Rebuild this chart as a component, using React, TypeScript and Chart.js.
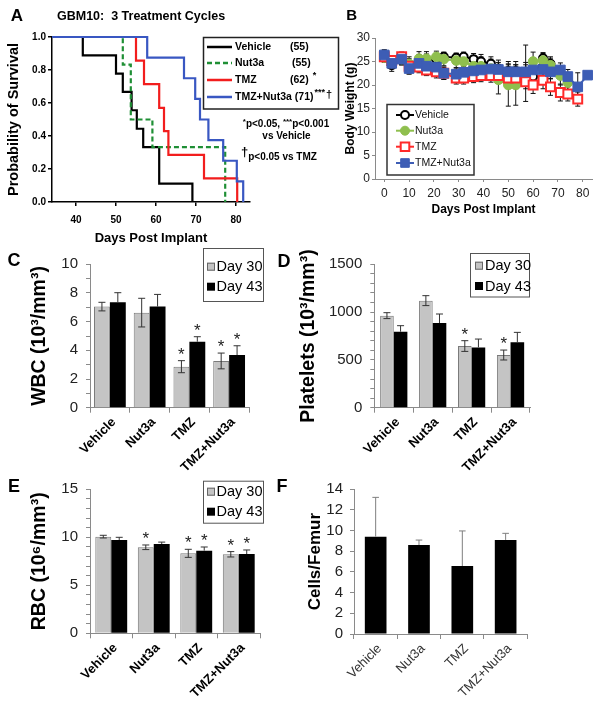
import React, { useEffect, useRef } from 'react';
import { Chart, registerables } from 'chart.js';

Chart.register(...registerables);

const SANS = "'Liberation Sans', Arial, Helvetica, sans-serif";
const NARROW = "'Liberation Sans Narrow', 'Arial Narrow', 'Liberation Sans', Arial, sans-serif";
Chart.defaults.font.family = SANS;

// ================= Panel A : survival =================
const survTicks = [40, 50, 60, 70, 80];
const vehicleDays = [34, 41.7, 50, 51.7, 53.9, 55.2, 56.8, 60.8, 69.1];
const vehicleSurv = [1, 0.889, 0.778, 0.667, 0.556, 0.444, 0.333, 0.111, 0];
const nut3aDays = [34, 51.7, 53.7, 59.1, 77.3];
const nut3aSurv = [1, 0.833, 0.5, 0.333, 0];
const tmzDays = [34, 55, 57, 60.8, 62, 63.1, 72, 80.3];
const tmzSurv = [1, 0.857, 0.714, 0.571, 0.429, 0.286, 0.143, 0];
const comboDays = [34, 57.8, 67, 69.8, 71, 73.1, 76.8, 80.2, 81.8];
const comboSurv = [1, 0.875, 0.75, 0.625, 0.5, 0.375, 0.25, 0.125, 0];
const survNames = ['Vehicle', 'Nut3a', 'TMZ', 'TMZ+Nut3a'];
const survMedians = ['(55)', '(55)', '(62)', '(71)'];
const survMarks = ['', '', '*', '***'];

// ================= Panel B : body weight =================
const bwTicks = [0, 10, 20, 30, 40, 50, 60, 70, 80];
const bwDays = [0, 3, 7, 10, 14, 17, 21, 24, 29, 32, 36, 39, 43, 46, 50, 53, 57, 60, 64, 67, 71, 74, 78, 82];
const bwVehicle = [26.3, 24.2, 25.5, 24, 25, 25.3, 25.5, 26, 25.8, 26, 25.5, 25, 24.5, 23.5, 23, 23, 22.8, 21.8, 25.7, 24.5, null, null, null, null];
const bwVehicleErr = [1.2, 1.3, 1.2, 1.6, 1.5, 1.3, 1.2, 1.0, 1.0, 1.0, 1.2, 1.5, 1.5, 1.8, 2, 2, 2, 2.5, 1.2, 1.5, null, null, null, null];
const bwNut3a = [25.8, 25, 25.5, 24.5, 25.6, 25.6, 26, 25.5, 25.2, 25, 24, 24, 23.5, 21.1, 20, 20, 22.5, 25, 25.2, 24.2, 22, 20.5, null, null];
const bwNut3aErr = [1, 1.2, 1.2, 1.5, 1.5, 1.5, 1.2, 1.4, 1.5, 1.5, 2, 2, 2, 3, 4.5, 4.3, 6, 2, 1.5, 1.5, 2, 2, null, null];
const bwTmz = [26, 25.2, 26, 24, 23.8, 23.2, 22.8, 22.5, 21.5, 21.5, 21.8, 22, 22, 22, 21.5, 21.5, 20.7, 20, 21, 19.6, 18.4, 18.1, 17, null];
const bwTmzErr = [1, 1, 1, 1.2, 1.2, 1.2, 1.3, 1.3, 1.3, 1.3, 1.3, 1.3, 1.4, 1.4, 1.5, 1.5, 1.5, 1.8, 1.8, 1.8, 1.8, 1.5, 1.5, null];
const bwCombo = [26.4, 24.6, 25.5, 23.5, 24.6, 24, 23.8, 22.5, 22.3, 22.7, 23, 23.2, 23.4, 23.3, 22.8, 22.8, 22.8, 23.2, 23.3, 22.8, 23.2, 21.8, 19.6, 22.1];
const bwComboErr = [1, 1, 1.2, 1.2, 1.3, 1.2, 1.2, 1.3, 1.3, 1.3, 1.3, 1.3, 1.5, 1.5, 1.5, 1.5, 1.5, 1.5, 1.5, 1.5, 1.5, 1.5, 3, 0.5];

// ================= Panels C-F : bar charts =================
const groups = ['Vehicle', 'Nut3a', 'TMZ', 'TMZ+Nut3a'];
const dayLabels = ['Day 30', 'Day 43'];
const wbcDay30 = [7.05, 6.63, 2.86, 3.26];
const wbcDay30Err = [0.3, 1.0, 0.42, 0.55];
const wbcDay30Sig = [false, false, true, true];
const wbcDay43 = [7.35, 7.05, 4.6, 3.67];
const wbcDay43Err = [0.67, 0.85, 0.35, 0.65];
const wbcDay43Sig = [false, false, true, true];
const pltDay30 = [963, 1120, 645, 551];
const pltDay30Err = [31, 52, 56, 52];
const pltDay30Sig = [false, false, true, true];
const pltDay43 = [795, 886, 631, 684];
const pltDay43Err = [63, 94, 87, 104];
const pltDay43Sig = [false, false, false, false];
const rbcDay30 = [10.07, 8.96, 8.33, 8.23];
const rbcDay30Err = [0.14, 0.24, 0.42, 0.28];
const rbcDay30Sig = [false, true, true, true];
const rbcDay43 = [9.72, 9.3, 8.61, 8.26];
const rbcDay43Err = [0.28, 0.2, 0.38, 0.42];
const rbcDay43Sig = [false, false, true, true];
const femurCells = [9.42, 8.61, 6.58, 9.1];
const femurErr = [3.8, 0.48, 3.39, 0.64];

const AX = '#8a8a8a';
const GRAY_BAR = '#c4c4c4';

// ================= helpers =================
function text(c: any, s: string, x: number, y: number, font: string, color = '#000', align = 'left', base = 'middle') {
  c.save();
  c.font = font;
  c.fillStyle = color;
  c.textAlign = align;
  c.textBaseline = base;
  c.fillText(s, x, y);
  c.restore();
}

function runs(c: any, x: number, y: number, segs: any[], align = 'left') {
  c.save();
  let total = 0;
  segs.forEach((s) => { c.font = s[1]; total += c.measureText(s[0]).width; });
  let cx = align === 'center' ? x - total / 2 : x;
  c.textBaseline = 'middle';
  c.textAlign = 'left';
  c.fillStyle = '#000';
  segs.forEach((s) => {
    c.font = s[1];
    c.fillText(s[0], cx, y + (s[2] || 0));
    cx += c.measureText(s[0]).width;
  });
  c.restore();
  return cx;
}

function errorBarPlugin(o: any) {
  const draw = (chart: any) => {
    const c = chart.ctx;
    chart.data.datasets.forEach((ds: any, di: number) => {
      if (!ds.errors) return;
      const meta = chart.getDatasetMeta(di);
      const ys = chart.scales[meta.yAxisID];
      meta.data.forEach((el: any, i: number) => {
        const raw = ds.data[i];
        const v = raw !== null && typeof raw === 'object' ? raw.y : raw;
        const e = ds.errors[i];
        if (v == null || e == null) return;
        const x = el.x;
        const yT = ys.getPixelForValue(v + e);
        const yB = ys.getPixelForValue(ds.upOnly ? v : v - e);
        c.save();
        c.strokeStyle = o.color;
        c.lineWidth = o.width;
        c.beginPath();
        c.moveTo(x, yT); c.lineTo(x, yB);
        c.moveTo(x - o.cap, yT); c.lineTo(x + o.cap, yT);
        if (!ds.upOnly) { c.moveTo(x - o.cap, yB); c.lineTo(x + o.cap, yB); }
        c.stroke();
        c.restore();
        if (ds.stars && ds.stars[i]) {
          text(c, '*', x, yT - 1, `17px ${SANS}`, '#222', 'center', 'alphabetic');
        }
      });
    });
  };
  return o.behind ? { id: 'errbars', beforeDatasetsDraw: draw } : { id: 'errbars', afterDatasetsDraw: draw };
}

function decoPlugin(fn: (c: any, chart: any) => void) {
  return { id: 'deco', afterDraw(chart: any) { const c = chart.ctx; c.save(); fn(c, chart); c.restore(); } };
}

function barLegend(c: any, bx: number, by: number, bw: number, bh: number, rowY: number[], sqX: number, txtX: number) {
  c.save();
  c.strokeStyle = '#555';
  c.lineWidth = 1;
  c.strokeRect(bx + 0.5, by + 0.5, bw, bh);
  const fills = [GRAY_BAR, '#000'];
  rowY.forEach((y, i) => {
    c.fillStyle = fills[i];
    c.fillRect(sqX, y - 4, 8, 8);
    if (i === 0) { c.strokeStyle = '#666'; c.strokeRect(sqX + 0.5, y - 3.5, 7, 7); }
    text(c, dayLabels[i], txtX, y + 0.5, `14.5px ${SANS}`, '#000');
  });
  c.restore();
}

// ================= chart configs =================
function survivalConfig() {
  const mk = (label: string, days: number[], surv: number[], color: string, dash: number[], order: number) => ({
    label,
    data: days.map((d, i) => ({ x: d, y: surv[i] })),
    borderColor: color,
    borderWidth: 2.2,
    borderDash: dash,
    stepped: 'before',
    pointRadius: 0,
    fill: false,
    clip: 4,
    order,
  });
  const axis = { color: '#000', width: 1.5 };
  return {
    type: 'line',
    data: {
      datasets: [
        mk(survNames[0], vehicleDays, vehicleSurv, '#000000', [], 4),
        mk(survNames[1], nut3aDays, nut3aSurv, '#1f8f35', [5, 3], 3),
        mk(survNames[2], tmzDays, tmzSurv, '#f21d1d', [], 2),
        mk(survNames[3], comboDays, comboSurv, '#3957c2', [], 1),
      ],
    },
    options: {
      responsive: false,
      animation: false,
      events: [],
      layout: { padding: { left: 2, top: 37, right: 95, bottom: 0 } },
      plugins: { legend: { display: false }, tooltip: { enabled: false } },
      scales: {
        x: {
          type: 'linear', min: 34, max: 83.5,
          afterBuildTicks: (s: any) => { s.ticks = survTicks.map((v) => ({ value: v })); },
          afterFit: (s: any) => { s.height = 44; },
          grid: { drawOnChartArea: false, tickLength: 4, color: '#000', lineWidth: 1.5 },
          border: axis,
          ticks: { font: { weight: 'bold', size: 10 }, color: '#000', padding: 8 },
          title: { display: true, text: 'Days Post Implant', font: { weight: 'bold', size: 13 }, color: '#000', padding: { top: 0, bottom: 0 } },
        },
        y: {
          min: 0, max: 1,
          afterFit: (s: any) => { s.width = 50; },
          grid: { drawOnChartArea: false, tickLength: 4, color: '#000', lineWidth: 1.5 },
          border: axis,
          ticks: { stepSize: 0.2, callback: (v: any) => Number(v).toFixed(1), font: { weight: 'bold', size: 10 }, color: '#000', padding: 2 },
          title: { display: true, text: 'Probability of Survival', font: { weight: 'bold', size: 14.5 }, color: '#000', padding: { top: 3, bottom: 0 } },
        },
      },
    },
    plugins: [
      decoPlugin((c) => {
        text(c, 'A', 17, 16, `bold 17px ${SANS}`, '#000', 'center');
        text(c, 'GBM10:  3 Treatment Cycles', 57, 16.5, `bold 12.5px ${SANS}`);
        c.strokeStyle = '#222';
        c.lineWidth = 1.5;
        c.strokeRect(203.5, 37.5, 135, 71.5);
        const colors = ['#000000', '#1f8f35', '#f21d1d', '#3957c2'];
        const dashes = [[], [5, 3], [], []];
        const rowY = [47, 63, 80, 97];
        const lf = `bold 10.5px ${SANS}`;
        const sup = `bold 9px ${SANS}`;
        rowY.forEach((y, i) => {
          c.beginPath();
          c.setLineDash(dashes[i]);
          c.strokeStyle = colors[i];
          c.lineWidth = 2.5;
          c.moveTo(207, y); c.lineTo(232, y);
          c.stroke();
          c.setLineDash([]);
          if (i < 3) {
            text(c, survNames[i], 235, y, lf);
            const end = runs(c, i === 1 ? 292 : 290, y, [[survMedians[i], lf, 0]]);
            if (survMarks[i]) runs(c, end + 4, y, [[survMarks[i], sup, -4]]);
          } else {
            const end = runs(c, 235, y, [[survNames[i] + ' ' + survMedians[i], lf, 0]]);
            const e2 = runs(c, end + 1, y, [[survMarks[i], sup, -4]]);
            runs(c, e2 + 1, y, [['†', `bold 11px ${SANS}`, -2]]);
          }
        });
        const bf = `bold 10px ${SANS}`;
        const sf = `bold 8px ${SANS}`;
        runs(c, 286, 124.5, [['*', sf, -3], ['p<0.05, ', bf, 0], ['***', sf, -3], ['p<0.001', bf, 0]], 'center');
        runs(c, 286.5, 136.5, [['vs Vehicle', bf, 0]], 'center');
        runs(c, 241, 157, [['†', `bold 13px ${SANS}`, -5], ['p<0.05 vs TMZ', bf, 0]]);
      }),
    ],
  };
}

function weightConfig() {
  const mk = (label: string, vals: any[], errs: any[], o: any) => ({
    label,
    data: bwDays.map((d, i) => ({ x: d, y: vals[i] })),
    errors: errs,
    borderWidth: 2,
    fill: false,
    clip: false,
    pointBorderWidth: o.pbw,
    ...o,
  });
  const legendColors = [
    { line: '#000', style: 'circle', fill: '#fff', stroke: '#000' },
    { line: '#8fbf4e', style: 'circle', fill: '#8fbf4e', stroke: '#8fbf4e' },
    { line: '#ff2a2a', style: 'rect', fill: '#fff', stroke: '#ff2a2a' },
    { line: '#3d5db5', style: 'rect', fill: '#3d5db5', stroke: '#3d5db5' },
  ];
  return {
    type: 'line',
    data: {
      datasets: [
        mk(survNames[0], bwVehicle, bwVehicleErr, { borderColor: '#000', pointStyle: 'circle', pointRadius: 4, pointBackgroundColor: '#fff', pointBorderColor: '#000', pbw: 2, order: 4 }),
        mk(survNames[1], bwNut3a, bwNut3aErr, { borderColor: '#8fbf4e', pointStyle: 'circle', pointRadius: 4.8, pointBackgroundColor: '#8fbf4e', pointBorderColor: '#8fbf4e', pbw: 1, order: 3 }),
        mk(survNames[2], bwTmz, bwTmzErr, { borderColor: '#ff2a2a', pointStyle: 'rect', pointRadius: 6.3, pointBackgroundColor: '#fff', pointBorderColor: '#ff2a2a', pbw: 2, order: 2 }),
        mk(survNames[3], bwCombo, bwComboErr, { borderColor: '#3d5db5', pointStyle: 'rect', pointRadius: 6.8, pointBackgroundColor: '#3d5db5', pointBorderColor: '#3d5db5', pbw: 1, order: 1 }),
      ],
    },
    options: {
      responsive: false,
      animation: false,
      events: [],
      layout: { padding: { left: 0, top: 38, right: 12, bottom: 0 } },
      plugins: { legend: { display: false }, tooltip: { enabled: false } },
      scales: {
        x: {
          type: 'linear', min: -3.75, max: 83.75,
          afterBuildTicks: (s: any) => { s.ticks = bwTicks.map((v) => ({ value: v })); },
          afterFit: (s: any) => { s.height = 38; },
          grid: { drawOnChartArea: false, tickLength: 3, color: AX },
          border: { color: AX, width: 1 },
          ticks: { font: { size: 12 }, color: '#222', padding: 4 },
          title: { display: true, text: 'Days Post Implant', font: { weight: 'bold', size: 12 }, color: '#000', padding: { top: 0, bottom: 0 } },
        },
        y: {
          min: 0, max: 30,
          afterFit: (s: any) => { s.width = 75; },
          grid: { drawOnChartArea: false, tickLength: 3, color: AX },
          border: { color: AX, width: 1 },
          ticks: { stepSize: 5, font: { size: 12 }, color: '#222', padding: 2 },
          title: { display: true, text: 'Body Weight (g)', font: { weight: 'bold', size: 12 }, color: '#000', padding: { top: 43, bottom: 0 } },
        },
      },
    },
    plugins: [
      errorBarPlugin({ behind: true, color: '#111', width: 1, cap: 2.5 }),
      decoPlugin((c) => {
        text(c, 'B', 51.7, 15.5, `bold 15px ${SANS}`, '#000', 'center');
        c.strokeStyle = '#333';
        c.lineWidth = 1.5;
        c.strokeRect(87, 104.5, 87, 70.5);
        const rowY = [115, 130.7, 146.7, 163];
        rowY.forEach((y, i) => {
          const L = legendColors[i];
          c.beginPath();
          c.strokeStyle = L.line;
          c.lineWidth = 2;
          c.moveTo(96, y); c.lineTo(114, y);
          c.stroke();
          c.fillStyle = L.fill;
          c.strokeStyle = L.stroke;
          c.lineWidth = i === 0 || i === 2 ? 2 : 1;
          c.beginPath();
          if (L.style === 'circle') c.arc(105, y, i === 0 ? 4 : 4.5, 0, Math.PI * 2);
          else c.rect(105 - 4.3, y - 4.3, 8.6, 8.6);
          c.fill();
          c.stroke();
          text(c, survNames[i], 115, y + 0.5, `10.5px ${NARROW}`, '#111');
        });
      }),
    ],
  };
}

function barConfig(o: any) {
  return {
    type: 'bar',
    data: { labels: groups, datasets: o.datasets },
    options: {
      responsive: false,
      animation: false,
      events: [],
      layout: { padding: o.pad },
      plugins: { legend: { display: false }, tooltip: { enabled: false } },
      datasets: { bar: { categoryPercentage: o.cat, barPercentage: o.bar } },
      scales: {
        x: {
          afterFit: (s: any) => { s.height = o.xH; },
          grid: { offset: true, drawOnChartArea: false, tickLength: 5, color: AX },
          border: { color: AX, width: 1 },
          ticks: { autoSkip: false, maxRotation: 45, minRotation: 45, font: o.xFont, color: o.xColor, padding: 2, labelOffset: o.lo },
        },
        y: {
          min: o.min, max: o.max,
          afterFit: (s: any) => { s.width = o.yW; },
          grid: { drawOnChartArea: false, tickLength: 4, color: AX },
          border: { color: AX, width: 1 },
          ticks: {
            stepSize: o.step, autoSkip: false,
            callback: (v: any) => (Math.round(Number(v)) % o.every === 0 ? String(Math.round(Number(v))) : ''),
            font: { size: 15 }, color: '#222', padding: o.yPad,
          },
          title: { display: true, text: o.title, font: o.titleFont, color: '#000', padding: { top: o.titlePad, bottom: 0 } },
        },
      },
    },
    plugins: [errorBarPlugin({ color: o.errColor, width: 1, cap: o.cap }), decoPlugin(o.deco)],
  };
}

const pairSets = (d30: number[], e30: number[], s30: boolean[], d43: number[], e43: number[], s43: boolean[]) => [
  { label: dayLabels[0], data: d30, errors: e30, stars: s30, backgroundColor: GRAY_BAR, borderColor: '#7a7a7a', borderWidth: 1 },
  { label: dayLabels[1], data: d43, errors: e43, stars: s43, upOnly: true, backgroundColor: '#000', borderColor: '#000', borderWidth: 0 },
];

const titleFont = { weight: 'bold', size: 19.5 };
const xBold = { weight: 'bold', size: 13 };

function wbcConfig() {
  return barConfig({
    datasets: pairSets(wbcDay30, wbcDay30Err, wbcDay30Sig, wbcDay43, wbcDay43Err, wbcDay43Sig),
    pad: { left: 0, top: 19.3, right: 51, bottom: 0 },
    cat: 0.8, bar: 1, xH: 67.3, yW: 90, xFont: xBold, xColor: '#000', lo: 4,
    min: 0, max: 10, step: 1, every: 2, yPad: 8,
    title: 'WBC (10³/mm³)', titleFont, titlePad: 28,
    errColor: '#333', cap: 3.5,
    deco: (c: any) => {
      text(c, 'C', 14, 16.5, `bold 18px ${SANS}`, '#000', 'center');
      barLegend(c, 203, 3, 60, 53, [21.7, 41.7], 207, 216.5);
    },
  });
}

function pltConfig() {
  return barConfig({
    datasets: pairSets(pltDay30, pltDay30Err, pltDay30Sig, pltDay43, pltDay43Err, pltDay43Sig),
    pad: { left: 0, top: 19.3, right: 74, bottom: 0 },
    cat: 0.7, bar: 1, xH: 67.3, yW: 104.3, xFont: xBold, xColor: '#000', lo: 4,
    min: 0, max: 1500, step: 100, every: 500, yPad: 8,
    title: 'Platelets (10³/mm³)', titleFont, titlePad: 26.6,
    errColor: '#333', cap: 3.5,
    deco: (c: any) => {
      text(c, 'D', 14, 17, `bold 18px ${SANS}`, '#000', 'center');
      barLegend(c, 200, 8, 59, 43.5, [20.7, 41], 205, 215);
    },
  });
}

function rbcConfig() {
  return barConfig({
    datasets: pairSets(rbcDay30, rbcDay30Err, rbcDay30Sig, rbcDay43, rbcDay43Err, rbcDay43Sig),
    pad: { left: 0, top: 29.3, right: 40, bottom: 0 },
    cat: 0.75, bar: 1, xH: 70.7, yW: 90, xFont: xBold, xColor: '#000', lo: 4,
    min: 0, max: 15, step: 1, every: 5, yPad: 8,
    title: 'RBC (10⁶/mm³)', titleFont, titlePad: 28,
    errColor: '#333', cap: 3.5,
    deco: (c: any) => {
      text(c, 'E', 14, 27, `bold 18px ${SANS}`, '#000', 'center');
      barLegend(c, 203, 20.7, 60, 42, [31.7, 51.7], 207, 216.5);
    },
  });
}

function femurConfig() {
  return barConfig({
    datasets: [{ label: 'Cells/Femur', data: femurCells, errors: femurErr, upOnly: true, backgroundColor: '#000', borderWidth: 0 }],
    pad: { left: 0, top: 29.3, right: 76.7, bottom: 0 },
    cat: 1, bar: 0.5, xH: 70, yW: 84, xFont: { size: 13 }, xColor: '#333', lo: 4,
    min: 0, max: 14, step: 2, every: 2, yPad: 7,
    title: 'Cells/Femur', titleFont: { weight: 'bold', size: 17 }, titlePad: 34.8,
    errColor: '#7f7f7f', cap: 3.3,
    deco: (c: any) => {
      text(c, 'F', 12, 27, `bold 18px ${SANS}`, '#000', 'center');
    },
  });
}

// ================= React =================
function Panel({ box, make }: { box: number[]; make: () => any }) {
  const ref = useRef<HTMLCanvasElement>(null);
  useEffect(() => {
    const chart = new Chart(ref.current as HTMLCanvasElement, make());
    return () => chart.destroy();
  }, []);
  return (
    <canvas
      ref={ref}
      width={box[2]}
      height={box[3]}
      style={{ position: 'absolute', left: box[0], top: box[1], width: box[2], height: box[3] }}
    />
  );
}

export default function App() {
  return (
    <div style={{ position: 'absolute', left: 0, top: 0, width: 604, height: 704, background: '#fff', overflow: 'hidden' }}>
      <Panel box={[0, 0, 345, 246]} make={survivalConfig} />
      <Panel box={[300, 0, 304, 217]} make={weightConfig} />
      <Panel box={[0, 245, 300, 230]} make={wbcConfig} />
      <Panel box={[270, 245, 334, 230]} make={pltConfig} />
      <Panel box={[0, 460, 300, 244]} make={rbcConfig} />
      <Panel box={[270, 460, 334, 244]} make={femurConfig} />
    </div>
  );
}
